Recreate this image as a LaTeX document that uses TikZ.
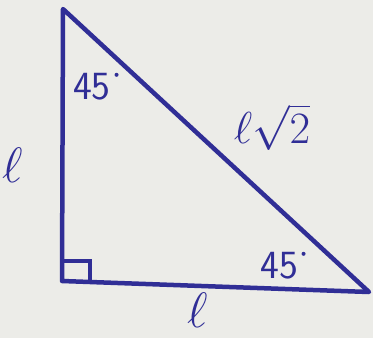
\documentclass[tikz,border=0pt]{standalone}
\usepackage{fontspec}
\usetikzlibrary{positioning}

\definecolor{ink}{RGB}{48,46,150}
\definecolor{paper}{RGB}{236,236,232}

\begin{document}
\begin{tikzpicture}[
  x=1pt, y=-1pt,
  side/.style={draw=ink, line width=4.5pt, line join=round, line cap=round},
  sqmark/.style={draw=ink, line width=3.5pt},
  lbl/.style={text=ink, font=\sffamily\fontsize{40}{40}\selectfont, inner sep=0pt},
  dot/.style={circle, fill=ink, inner sep=0pt, minimum size=4pt}
]
\fill[paper] (0,0) rectangle (373,338);
\useasboundingbox (0,0) rectangle (373,338);
% corners of the triangle
\coordinate (top) at (63,9);
\coordinate (rt) at (62,281);
\coordinate (tip) at (369,292);
\draw[side] (top) -- (rt) -- (tip) -- cycle;
% right angle
\draw[sqmark] (62,261) -- (90,261) -- (90,282);
% labels
\node[lbl] (angA) at (92,87) {45};
\node[dot, above right=-3pt and 4pt of angA] (degA) {};
\node[lbl] (angB) at (279,266) {45};
\node[dot, above right=-3pt and 4pt of angB] (degB) {};
\node[lbl] (legL) at (13,165) {\scalebox{2}{$\ell$}};
\node[lbl] (legB) at (198,310) {\scalebox{2}{$\ell$}};
\node[lbl] (hyp) at (272,127) {\scalebox{1.8}{$\ell\sqrt{2}$}};
\end{tikzpicture}
\end{document}
